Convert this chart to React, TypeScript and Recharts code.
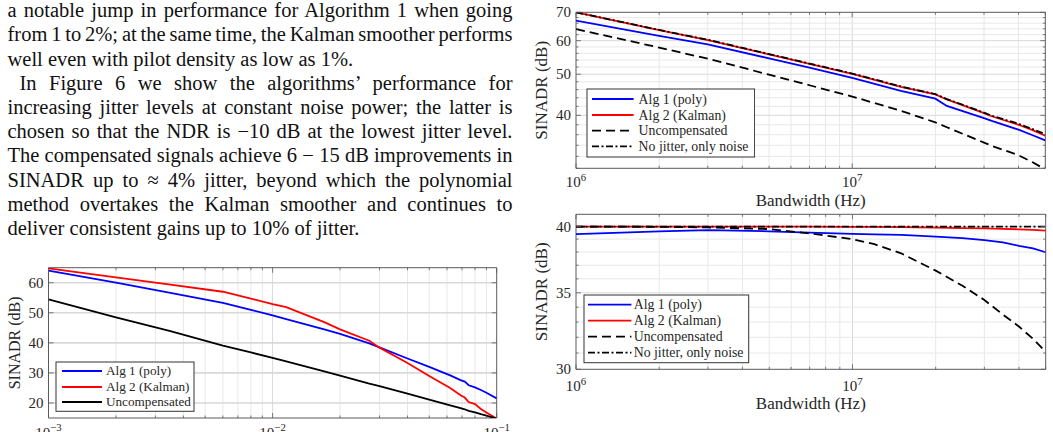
import React from 'react';
import { LineChart, Line, XAxis, YAxis, CartesianGrid, ReferenceArea, Label } from 'recharts';

const SERIF = '"Liberation Serif", "Times New Roman", Times, serif';
const INK = '#262626';
const FRAME = '#5a5a5a';
const GRID_MAJOR = '#d9d9d9';
const GRID_MINOR = '#e8e8e8';

// ---- SINADR versus jitter level (fraction of the sampling period) ----
const jitterLevels = [0.001, 0.002, 0.0035, 0.006, 0.008, 0.01, 0.0115, 0.017, 0.02, 0.027, 0.03, 0.04, 0.05, 0.062, 0.069, 0.072, 0.075, 0.08, 0.085, 0.09, 0.1];
const jitterPoly = [64.0, 60.0, 56.6, 53.3, 51.0, 49.1, 47.9, 44.5, 43.0, 39.8, 38.5, 34.8, 32.0, 29.2, 27.6, 27.1, 25.9, 25.2, 24.3, 23.4, 21.5];
const jitterKalman = [64.8, 61.8, 59.4, 57.0, 54.7, 52.9, 51.9, 46.9, 44.5, 40.7, 38.4, 33.3, 29.0, 25.0, 22.6, 21.8, 20.3, 19.6, 18.0, 16.8, 14.8];
const jitterUncomp = [54.5, 48.5, 43.9, 39.1, 36.8, 35.0, 33.8, 30.5, 29.1, 26.4, 25.6, 23.1, 21.1, 19.2, 18.3, 17.9, 17.4, 16.9, 16.3, 15.8, 14.8];
const jitterTicks = [0.001, 0.002, 0.003, 0.004, 0.005, 0.006, 0.007, 0.008, 0.009, 0.01, 0.02, 0.03, 0.04, 0.05, 0.06, 0.07, 0.08, 0.09, 0.1];
const jitterDecades = [0.001, 0.01, 0.1];
const jitterExponents = ['\u22123', '\u22122', '\u22121'];
const jitterSinadrTicks = [20, 30, 40, 50, 60];

// ---- SINADR versus bandwidth, jitter-dominated ----
const bwHigh = [1e6, 2e6, 3e6, 5e6, 7e6, 1e7, 1.5e7, 2e7, 2.2e7, 3e7, 3.2e7, 4e7, 4.5e7, 5e7];
const highPoly = [66.9, 61.6, 58.8, 54.5, 51.8, 49.0, 45.7, 43.8, 42.1, 39.4, 38.8, 37.0, 35.9, 34.9];
const highKalman = [70.0, 63.5, 60.2, 55.7, 52.9, 50.1, 46.7, 44.8, 43.6, 40.5, 39.8, 38.0, 36.9, 35.8];
const highUncomp = [63.9, 57.8, 54.4, 49.9, 47.1, 44.3, 41.0, 38.5, 37.5, 34.5, 33.9, 32.2, 31.0, 29.8];
const highNoJitter = [70.0, 63.6, 60.3, 55.8, 53.0, 50.2, 46.8, 44.9, 43.7, 40.6, 39.9, 38.2, 37.1, 36.1];
const highSinadrTicks = [30, 32, 34, 36, 38, 40, 42, 44, 46, 48, 50, 52, 54, 56, 58, 60, 62, 64, 66, 68, 70];
const highSinadrMajor = [40, 50, 60, 70];

// ---- SINADR versus bandwidth, noise-dominated ----
const bwLow = [1e6, 2e6, 3e6, 5e6, 7e6, 1e7, 1.2e7, 1.5e7, 2e7, 2.5e7, 3e7, 3.5e7, 4e7, 4.5e7, 5e7];
const lowPoly = [39.4, 39.62, 39.72, 39.62, 39.52, 39.42, 39.38, 39.33, 39.2, 39.08, 38.92, 38.74, 38.48, 38.28, 37.98];
const lowKalman = [40.0, 40.0, 40.0, 40.0, 39.99, 39.98, 39.97, 39.95, 39.92, 39.88, 39.85, 39.82, 39.78, 39.74, 39.68];
const lowUncomp = [40.0, 39.98, 39.93, 39.8, 39.45, 39.0, 38.6, 37.9, 36.6, 35.5, 34.5, 33.5, 32.7, 31.9, 31.07];
const lowNoJitter = [40.0, 40.0, 40.0, 40.0, 40.0, 40.0, 40.0, 40.0, 40.0, 40.0, 40.0, 40.0, 40.0, 40.0, 40.0];
const lowSinadrTicks = [30, 31, 32, 33, 34, 35, 36, 37, 38, 39, 40];
const lowSinadrMajor = [30, 35, 40];

const bwTicks = [1e6, 2e6, 3e6, 4e6, 5e6, 6e6, 7e6, 8e6, 9e6, 1e7, 2e7, 3e7, 4e7, 5e7];
const bwDecades = [1e6, 1e7];
const bwExponents = ['6', '7'];

type Series = { key: string; label: string; color: string; dash?: string };

const POLY: Series = { key: 'poly', label: 'Alg 1 (poly)', color: '#0000ff' };
const KALMAN: Series = { key: 'kalman', label: 'Alg 2 (Kalman)', color: '#ff0000' };
const UNCOMP_SOLID: Series = { key: 'uncomp', label: 'Uncompensated', color: '#000000' };
const UNCOMP_DASHED: Series = { key: 'uncomp', label: 'Uncompensated', color: '#000000', dash: '9 5' };
const NO_JITTER: Series = { key: 'nojit', label: 'No jitter, only noise', color: '#000000', dash: '7 2.5 2 2.5' };

type LegendBox = { left: number; top: number; width: number; height: number; rows: number[]; sampleFrom: number; sampleTo: number; textX: number; font: number };

type PanelProps = {
  width: number;
  height: number;
  inset: { left: number; right: number; top: number; bottom: number };
  rows: Record<string, number>[];
  series: Series[];
  xDomain: [number, number];
  xTicks: number[];
  xMajor: number[];
  xExponents: string[];
  yDomain: [number, number];
  yLog: boolean;
  yTicks: number[];
  yMajor: number[];
  yGridWidth: number;
  xTickGap: number;
  xLabel?: string;
  xLabelGap: number;
  yLabelX: number;
  yLabelFont: number;
  tickFont: number;
  legend: LegendBox;
};

const indexIn = (list: number[], v: number) => list.findIndex((m) => Math.abs(m - v) <= Math.abs(m) * 1e-9);

function Panel(p: PanelProps) {
  const plotTop = p.inset.top;
  const plotBottom = p.height - p.inset.bottom;
  const plotLeft = p.inset.left;
  const plotRight = p.width - p.inset.right;
  const inside = (d: [number, number]) => (v: number) => v > d[0] && v < d[1];

  const xMinorGrid = p.xTicks.filter(inside(p.xDomain)).filter((v) => indexIn(p.xMajor, v) < 0);
  const xMajorGrid = p.xMajor.filter(inside(p.xDomain));
  const yMinorGrid = p.yTicks.filter(inside(p.yDomain)).filter((v) => indexIn(p.yMajor, v) < 0);
  const yMajorGrid = p.yMajor.filter(inside(p.yDomain));

  const renderXTick = (t: any) => {
    const x = t.x;
    const k = indexIn(p.xMajor, t.payload.value);
    const len = k >= 0 ? 5 : 2.5;
    return (
      <g>
        <line x1={x} x2={x} y1={plotBottom} y2={plotBottom - len} stroke={FRAME} strokeWidth={0.8} />
        <line x1={x} x2={x} y1={plotTop} y2={plotTop + len} stroke={FRAME} strokeWidth={0.8} />
        {k >= 0 && (
          <text x={x} y={plotBottom + p.xTickGap} textAnchor="middle" fontFamily={SERIF} fontSize={p.tickFont} fill={INK}>
            10
            <tspan dy={-p.tickFont * 0.42} fontSize={p.tickFont * 0.72}>
              {p.xExponents[k]}
            </tspan>
          </text>
        )}
      </g>
    );
  };

  const renderYTick = (t: any) => {
    const y = t.y;
    const v = t.payload.value;
    const k = indexIn(p.yMajor, v);
    const len = k >= 0 ? 5 : 2.5;
    return (
      <g>
        <line x1={plotLeft} x2={plotLeft + len} y1={y} y2={y} stroke={FRAME} strokeWidth={0.8} />
        <line x1={plotRight} x2={plotRight - len} y1={y} y2={y} stroke={FRAME} strokeWidth={0.8} />
        {k >= 0 && (
          <text x={plotLeft - 5} y={y + p.tickFont * 0.34} textAnchor="end" fontFamily={SERIF} fontSize={p.tickFont} fill={INK}>
            {v}
          </text>
        )}
      </g>
    );
  };

  const yMid = (plotTop + plotBottom) / 2;
  const xMid = (plotLeft + plotRight) / 2;
  const lg = p.legend;

  return (
    <div style={{ position: 'relative', width: p.width, height: p.height }}>
      <LineChart width={p.width} height={p.height} data={p.rows} margin={{ top: p.inset.top, right: p.inset.right, bottom: 0, left: 0 }}>
        <CartesianGrid horizontal={false} vertical verticalValues={xMinorGrid} stroke={GRID_MINOR} strokeWidth={1} />
        <CartesianGrid horizontal={false} vertical verticalValues={xMajorGrid} stroke={GRID_MAJOR} strokeWidth={1} />
        {yMinorGrid.length > 0 && (
          <CartesianGrid vertical={false} horizontal horizontalValues={yMinorGrid} stroke={GRID_MINOR} strokeWidth={1} />
        )}
        <CartesianGrid vertical={false} horizontal horizontalValues={yMajorGrid} stroke={GRID_MAJOR} strokeWidth={p.yGridWidth} />
        <XAxis
          dataKey="x"
          type="number"
          scale="log"
          domain={p.xDomain}
          allowDataOverflow
          ticks={p.xTicks}
          interval={0}
          tick={renderXTick}
          tickLine={false}
          axisLine={false}
          height={p.inset.bottom}
        >
          {p.xLabel && (
            <Label
              content={() => (
                <text x={xMid} y={plotBottom + p.xLabelGap} textAnchor="middle" fontFamily={SERIF} fontSize={p.yLabelFont} fill={INK}>
                  {p.xLabel}
                </text>
              )}
            />
          )}
        </XAxis>
        <YAxis
          type="number"
          scale={p.yLog ? 'log' : 'linear'}
          domain={p.yDomain}
          allowDataOverflow
          ticks={p.yTicks}
          interval={0}
          tick={renderYTick}
          tickLine={false}
          axisLine={false}
          width={p.inset.left}
        >
          <Label
            content={() => (
              <text
                x={p.yLabelX}
                y={yMid}
                transform={`rotate(-90 ${p.yLabelX} ${yMid})`}
                textAnchor="middle"
                fontFamily={SERIF}
                fontSize={p.yLabelFont}
                fill={INK}
              >
                SINADR (dB)
              </text>
            )}
          />
        </YAxis>
        <ReferenceArea
          x1={p.xDomain[0]}
          x2={p.xDomain[1]}
          y1={p.yDomain[0]}
          y2={p.yDomain[1]}
          fill="none"
          fillOpacity={0}
          stroke={FRAME}
          strokeWidth={1}
          ifOverflow="visible"
        />
        {p.series.map((s) => (
          <Line
            key={s.key}
            type="linear"
            dataKey={s.key}
            name={s.label}
            stroke={s.color}
            strokeWidth={1.8}
            strokeDasharray={s.dash}
            dot={false}
            activeDot={false}
            isAnimationActive={false}
          />
        ))}
      </LineChart>
      <svg
        width={lg.width + 2}
        height={lg.height + 2}
        style={{ position: 'absolute', left: lg.left - 1, top: lg.top - 1 }}
      >
        <rect x={1} y={1} width={lg.width} height={lg.height} fill="#ffffff" stroke="#333333" strokeWidth={1} />
        {p.series.map((s, i) => (
          <g key={s.key}>
            <line
              x1={1 + lg.sampleFrom}
              x2={1 + lg.sampleTo}
              y1={1 + lg.rows[i]}
              y2={1 + lg.rows[i]}
              stroke={s.color}
              strokeWidth={1.8}
              strokeDasharray={s.dash}
            />
            <text x={1 + lg.textX} y={1 + lg.rows[i] + lg.font * 0.33} fontFamily={SERIF} fontSize={lg.font} fill={INK}>
              {s.label}
            </text>
          </g>
        ))}
      </svg>
    </div>
  );
}

const jitterRows = jitterLevels.map((x, i) => ({ x, poly: jitterPoly[i], kalman: jitterKalman[i], uncomp: jitterUncomp[i] }));
const highRows = bwHigh.map((x, i) => ({ x, poly: highPoly[i], kalman: highKalman[i], uncomp: highUncomp[i], nojit: highNoJitter[i] }));
const lowRows = bwLow.map((x, i) => ({ x, poly: lowPoly[i], kalman: lowKalman[i], uncomp: lowUncomp[i], nojit: lowNoJitter[i] }));

const bodyLines: { text: string; last?: boolean; indent?: boolean }[] = [
  { text: 'a notable jump in performance for Algorithm 1 when going' },
  { text: 'from 1 to 2%; at the same time, the Kalman smoother performs' },
  { text: 'well even with pilot density as low as 1%.', last: true },
  { text: 'In Figure 6 we show the algorithms\u2019 performance for', indent: true },
  { text: 'increasing jitter levels at constant noise power; the latter is' },
  { text: 'chosen so that the NDR is \u221210 dB at the lowest jitter level.' },
  { text: 'The compensated signals achieve 6 \u2212 15 dB improvements in' },
  { text: 'SINADR up to \u2248 4% jitter, beyond which the polynomial' },
  { text: 'method overtakes the Kalman smoother and continues to' },
  { text: 'deliver consistent gains up to 10% of jitter.', last: true },
];

function BodyText() {
  return (
    <div
      style={{
        position: 'absolute',
        left: 7.5,
        top: -1.8,
        width: 505,
        fontFamily: SERIF,
        fontSize: 20.5,
        lineHeight: '24.2px',
        color: '#111111',
      }}
    >
      {bodyLines.map((l, i) => (
        <div
          key={i}
          style={{
            textAlign: l.last ? 'left' : 'justify',
            textAlignLast: l.last ? 'left' : 'justify',
            wordSpacing: l.last ? 0 : -1.8,
            paddingLeft: l.indent ? 12 : 0,
            whiteSpace: 'nowrap',
          }}
        >
          {l.text}
        </div>
      ))}
    </div>
  );
}

export default function App() {
  return (
    <div style={{ position: 'absolute', left: 0, top: 0, width: 1053, height: 432, overflow: 'hidden', background: '#ffffff' }}>
      <BodyText />
      <div style={{ position: 'absolute', left: 0, top: 250 }}>
        <Panel
          width={520}
          height={182}
          inset={{ left: 48.5, right: 23.3, top: 17.7, bottom: 14 }}
          rows={jitterRows}
          series={[POLY, KALMAN, UNCOMP_SOLID]}
          xDomain={[0.001, 0.1]}
          xTicks={jitterTicks}
          xMajor={jitterDecades}
          xExponents={jitterExponents}
          yDomain={[15, 65]}
          yLog={false}
          yTicks={jitterSinadrTicks}
          yMajor={jitterSinadrTicks}
          yGridWidth={1.6}
          xTickGap={19.6}
          xLabelGap={38}
          yLabelX={20.5}
          yLabelFont={16}
          tickFont={15}
          legend={{ left: 56, top: 111.7, width: 138, height: 49.3, rows: [9, 25, 40], sampleFrom: 6, sampleTo: 46, textX: 50, font: 13.2 }}
        />
      </div>
      <div style={{ position: 'absolute', left: 525, top: 0 }}>
        <Panel
          width={528}
          height={210}
          inset={{ left: 51, right: 7.7, top: 12.3, bottom: 41.7 }}
          rows={highRows}
          series={[POLY, KALMAN, UNCOMP_DASHED, NO_JITTER]}
          xDomain={[1e6, 5e7]}
          xTicks={bwTicks}
          xMajor={bwDecades}
          xExponents={bwExponents}
          yDomain={[30, 70]}
          yLog
          yTicks={highSinadrTicks}
          yMajor={highSinadrMajor}
          yGridWidth={1}
          xTickGap={19}
          xLabel="Bandwidth (Hz)"
          xLabelGap={37.5}
          yLabelX={22.5}
          yLabelFont={17}
          tickFont={15}
          legend={{ left: 61.7, top: 89.3, width: 167.6, height: 68, rows: [10, 26, 41.7, 57.4], sampleFrom: 5, sampleTo: 46.6, textX: 51.6, font: 13.8 }}
        />
      </div>
      <div style={{ position: 'absolute', left: 525, top: 210 }}>
        <Panel
          width={528}
          height={222}
          inset={{ left: 51, right: 7.3, top: 4.3, bottom: 62.7 }}
          rows={lowRows}
          series={[POLY, KALMAN, UNCOMP_DASHED, NO_JITTER]}
          xDomain={[1e6, 5e7]}
          xTicks={bwTicks}
          xMajor={bwDecades}
          xExponents={bwExponents}
          yDomain={[30, 41]}
          yLog
          yTicks={lowSinadrTicks}
          yMajor={lowSinadrMajor}
          yGridWidth={1}
          xTickGap={21.5}
          xLabel="Bandwidth (Hz)"
          xLabelGap={39.7}
          yLabelX={22}
          yLabelFont={17}
          tickFont={15}
          legend={{ left: 59.3, top: 85, width: 164.7, height: 67.7, rows: [9.7, 25.7, 41.7, 57.7], sampleFrom: 4, sampleTo: 47.4, textX: 49.7, font: 13.8 }}
        />
      </div>
    </div>
  );
}
